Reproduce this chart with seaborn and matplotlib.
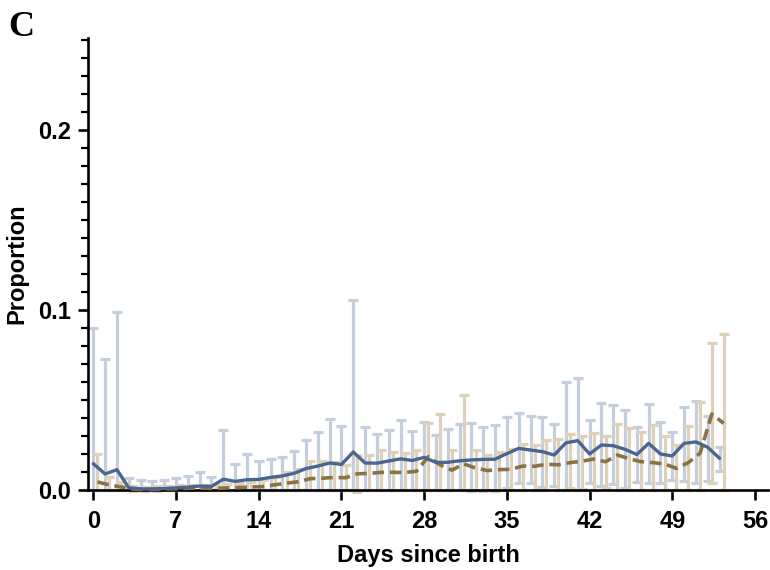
import numpy as np
import pandas as pd
import matplotlib
matplotlib.use("Agg")
import matplotlib.pyplot as plt
from matplotlib.ticker import MultipleLocator, FixedLocator
import seaborn as sns

days = list(range(54))

blue_mean = [0.0146, 0.0089, 0.0113, 0.0012, 0.0006, 0.0006, 0.0008, 0.0012, 0.0016, 0.0022,
             0.0020, 0.0060, 0.0048, 0.0057, 0.0059, 0.0070, 0.0078, 0.0093, 0.0119, 0.0133,
             0.0150, 0.0142, 0.0211, 0.0150, 0.0149, 0.0161, 0.0173, 0.0164, 0.0181, 0.0153,
             0.0154, 0.0162, 0.0167, 0.0170, 0.0171, 0.0202, 0.0231, 0.0222, 0.0213, 0.0194,
             0.0262, 0.0274, 0.0200, 0.0250, 0.0246, 0.0226, 0.0197, 0.0259, 0.0200, 0.0189,
             0.0259, 0.0267, 0.0237, 0.0176]
blue_upper = [0.0898, 0.0726, 0.0987, 0.0065, 0.0054, 0.0050, 0.0056, 0.0066, 0.0078, 0.0100,
              0.0074, 0.0332, 0.0144, 0.0199, 0.0160, 0.0172, 0.0183, 0.0214, 0.0278, 0.0320,
              0.0393, 0.0357, 0.1056, 0.0348, 0.0310, 0.0333, 0.0391, 0.0330, 0.0375, 0.0306,
              0.0341, 0.0366, 0.0374, 0.0348, 0.0361, 0.0407, 0.0430, 0.0409, 0.0404, 0.0366,
              0.0601, 0.0620, 0.0389, 0.0483, 0.0470, 0.0444, 0.0352, 0.0478, 0.0380, 0.0324,
              0.0463, 0.0494, 0.0413, 0.0237]
blue_lower = [0.0, 0.0, 0.0, 0.0, 0.0, 0.0, 0.0, 0.0, 0.0, 0.0,
              0.0, 0.0, 0.0, 0.0, 0.0, 0.0, 0.0, 0.0, 0.0, 0.0,
              0.0, 0.0, 0.0, 0.0, 0.0, 0.0, 0.0, 0.0, 0.0, 0.0,
              0.0, 0.0, -0.0008, -0.0008, -0.0008, 0.0010, 0.0040, 0.0038, 0.0019, 0.0022,
              0.0, 0.0, 0.0037, 0.0020, 0.0031, 0.0010, 0.0042, 0.0037, 0.0037, 0.0056,
              0.0052, 0.0040, 0.0052, 0.0107]

tan_mean = [0.0045, 0.0028, 0.0017, 0.0005, 0.0003, 0.0004, 0.0006, 0.0008, 0.0010, 0.0010,
            0.0008, 0.0012, 0.0014, 0.0017, 0.0019, 0.0029, 0.0038, 0.0046, 0.0063, 0.0065,
            0.0070, 0.0068, 0.0090, 0.0092, 0.0098, 0.0098, 0.0097, 0.0104, 0.0185, 0.0140,
            0.0110, 0.0145, 0.0122, 0.0108, 0.0113, 0.0115, 0.0133, 0.0132, 0.0143, 0.0140,
            0.0152, 0.0160, 0.0172, 0.0157, 0.0194, 0.0174, 0.0157, 0.0152, 0.0144, 0.0120,
            0.0152, 0.0204, 0.0422, 0.0370]
tan_upper = [0.0199, 0.0070, 0.0046, 0.0020, 0.0015, 0.0020, 0.0022, 0.0025, 0.0028, 0.0030,
             0.0025, 0.0035, 0.0040, 0.0045, 0.0055, 0.0074, 0.0102, 0.0117, 0.0160, 0.0159,
             0.0157, 0.0139, 0.0197, 0.0192, 0.0222, 0.0213, 0.0206, 0.0222, 0.0370, 0.0424,
             0.0224, 0.0527, 0.0222, 0.0197, 0.0211, 0.0226, 0.0257, 0.0250, 0.0276, 0.0285,
             0.0313, 0.0300, 0.0315, 0.0298, 0.0366, 0.0346, 0.0324, 0.0360, 0.0302, 0.0250,
             0.0357, 0.0491, 0.0815, 0.0865]
tan_lower = [0.0, 0.0, 0.0, -0.0008, -0.0008, -0.0008, 0.0, 0.0, 0.0, 0.0,
             0.0, 0.0, 0.0, 0.0, 0.0, 0.0, 0.0, 0.0, 0.0, 0.0,
             0.0, 0.0, -0.0009, 0.0, 0.0, 0.0, 0.0, 0.0, 0.0, 0.0,
             0.0, 0.0, 0.0, 0.0, 0.0, 0.0, 0.0, 0.0, 0.0, 0.0,
             0.0010, 0.0008, 0.0, 0.0010, 0.0, 0.0, 0.0, 0.0, 0.0, 0.0,
             0.0, 0.0, 0.0037, 0.0]

x_ticks = [0, 7, 14, 21, 28, 35, 42, 49, 56]
y_ticks = [0.0, 0.1, 0.2]
y_labels = ["0.0", "0.1", "0.2"]

BLUE_LINE = "#4a6690"
BLUE_ERR = "#c5cedd"
TAN_LINE = "#8c7142"
TAN_ERR = "#ddd1b9"
TAN_SHIFT = 0.35

sns.set_style("ticks")
plt.rcParams["font.family"] = ["Liberation Sans", "DejaVu Sans"]
plt.rcParams["text.color"] = "black"
plt.rcParams["axes.labelcolor"] = "black"
plt.rcParams["xtick.color"] = "black"
plt.rcParams["ytick.color"] = "black"

df = pd.DataFrame({"day": days, "blue": blue_mean, "tan": tan_mean})
df["day_tan"] = df["day"] + TAN_SHIFT

fig = plt.figure(figsize=(7.7, 5.7), dpi=100)
ax = fig.add_axes([88 / 770, 1 - 490 / 570, 680 / 770, 452 / 570])

b_mean = np.array(blue_mean)
t_mean = np.array(tan_mean)
ax.errorbar(df["day"], b_mean,
            yerr=[b_mean - np.array(blue_lower), np.array(blue_upper) - b_mean],
            fmt="none", ecolor=BLUE_ERR, elinewidth=2.3, capsize=3.3, capthick=2.3,
            clip_on=False, zorder=2)
ax.errorbar(df["day_tan"], t_mean,
            yerr=[t_mean - np.array(tan_lower), np.array(tan_upper) - t_mean],
            fmt="none", ecolor=TAN_ERR, elinewidth=2.3, capsize=3.3, capthick=2.3,
            clip_on=False, zorder=2)

sns.lineplot(data=df, x="day", y="blue", ax=ax, color=BLUE_LINE, linewidth=2.4,
             zorder=4, clip_on=False)
sns.lineplot(data=df, x="day_tan", y="tan", ax=ax, color=TAN_LINE, linewidth=2.6,
             zorder=3, clip_on=False, dashes=False)
ax.lines[-1].set_dashes((3.2, 1.6))

ax.set_xlim(-0.45, 57.1)
ax.set_ylim(0, 0.251)
ax.xaxis.set_major_locator(FixedLocator(x_ticks))
ax.yaxis.set_major_locator(FixedLocator(y_ticks))
ax.set_yticklabels(y_labels)
ax.yaxis.set_minor_locator(MultipleLocator(0.01))

for s in ["top", "right"]:
    ax.spines[s].set_visible(False)
for s in ["left", "bottom"]:
    ax.spines[s].set_linewidth(1.9)
    ax.spines[s].set_color("black")

ax.tick_params(axis="both", which="major", length=7.5, width=1.9, color="black",
               labelcolor="black", labelsize=17, pad=5)
ax.tick_params(axis="x", which="major", pad=7)
ax.tick_params(axis="y", which="minor", length=5, width=1.6, color="black")
for lab in ax.get_xticklabels() + ax.get_yticklabels():
    lab.set_fontweight("bold")

ax.set_xlabel("Days since birth", fontsize=17, fontweight="bold", labelpad=8,
              color="black")
ax.set_ylabel("Proportion", fontsize=17, fontweight="bold", labelpad=7,
              color="black")

fig.text(8 / 770, 1 - 36 / 570, "C", fontsize=26, fontweight="bold", color="black",
         family=["Liberation Serif", "DejaVu Serif"])

fig.savefig("out.png", dpi=100)
